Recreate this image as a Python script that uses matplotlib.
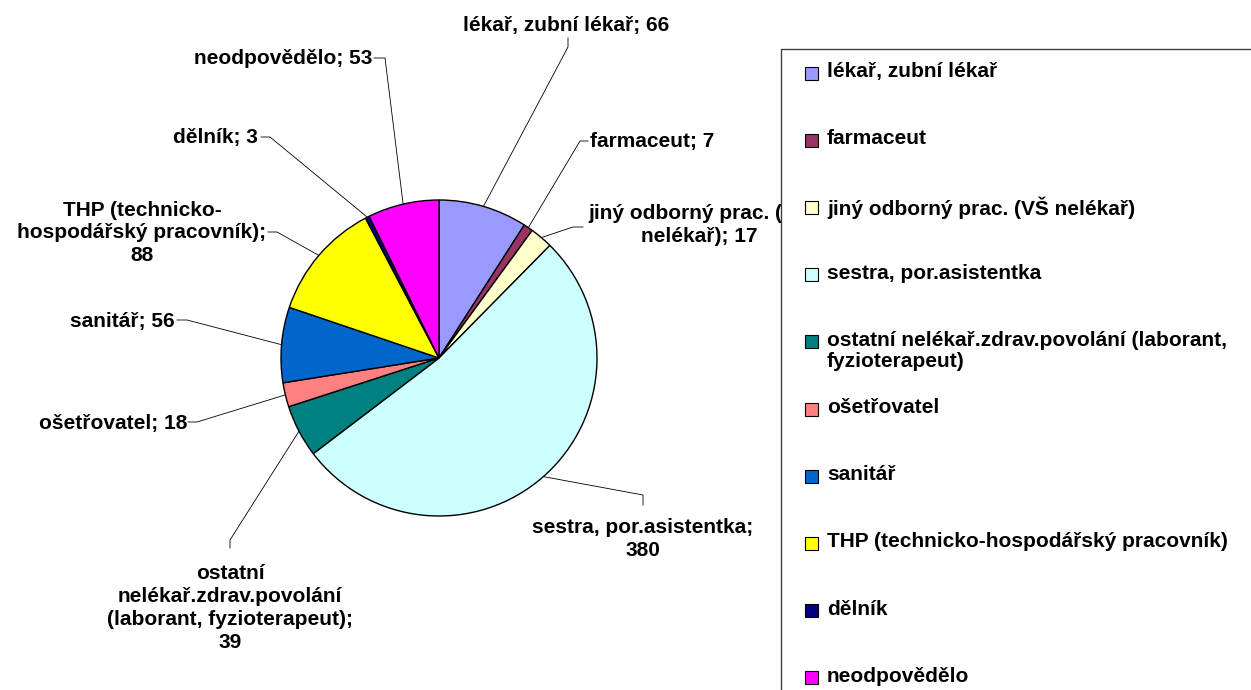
import matplotlib
matplotlib.use("Agg")
import matplotlib.pyplot as plt
from matplotlib.patches import Rectangle
import numpy as np

plt.rcParams['font.family'] = ['Liberation Sans', 'DejaVu Sans']

# data
categories = ["lékař, zubní lékař", "farmaceut", "jiný odborný prac. (VŠ nelékař)",
              "sestra, por.asistentka",
              "ostatní nelékař.zdrav.povolání (laborant,\nfyzioterapeut)",
              "ošetřovatel", "sanitář", "THP (technicko-hospodářský pracovník)",
              "dělník", "neodpovědělo"]
counts = [66, 7, 17, 380, 39, 18, 56, 88, 3, 53]
colors = ["#9999FF", "#993366", "#FFFFCC", "#CCFFFF", "#008080",
          "#FF8080", "#0066CC", "#FFFF00", "#000080", "#FF00FF"]

# wrapped names for the labels next to the pie
label_names = ["lékař, zubní lékař", "farmaceut", "jiný odborný prac. (VŠ\nnelékař)",
               "sestra, por.asistentka", "ostatní\nnelékař.zdrav.povolání\n(laborant, fyzioterapeut)",
               "ošetřovatel", "sanitář", "THP (technicko-\nhospodářský pracovník)",
               "dělník", "neodpovědělo"]
label_seps = ["; ", "; ", "; ", ";\n", ";\n", "; ", "; ", ";\n", "; ", "; "]

W, H = 1251, 690

def py(y):
    # pixel row (from top) -> data y
    return H - y

# label layout in pixels: text x, text y, alignment, elbow point, stub end
label_pos = [(566, 25, 'center'), (590, 142, 'left'), (699, 223, 'center'),
             (643, 539, 'center'), (230, 608, 'center'), (187, 423, 'right'),
             (175, 322, 'right'), (142, 233, 'center'), (258, 137, 'right'),
             (372, 58, 'right')]
elbows = [(568, 47), (580, 141), (573, 227), (643, 495), (230, 540),
          (197, 422), (187, 320), (277, 232), (270, 137), (385, 58)]
stub_ends = [(568, 38), (588, 141), (583, 227), (643, 505), (230, 548),
             (188, 422), (177, 320), (268, 232), (261, 137), (374, 58)]

fig = plt.figure(figsize=(W / 100, H / 100), dpi=100)
ax = fig.add_axes([0, 0, 1, 1])

center = (439, py(358))
radius = 158
wedges, _ = ax.pie(counts, colors=colors, startangle=90, counterclock=False,
                   center=center, radius=radius, frame=True,
                   wedgeprops=dict(edgecolor='black', linewidth=1.0))
ax.set_xlim(0, W)
ax.set_ylim(0, H)
ax.axis('off')

fs = 15
for i, w in enumerate(wedges):
    mid = np.deg2rad((w.theta1 + w.theta2) / 2)
    ex = center[0] + radius * np.cos(mid)
    ey = center[1] + radius * np.sin(mid)
    (bx, by), (sx, sy) = elbows[i], stub_ends[i]
    ax.plot([ex, bx, sx], [ey, py(by), py(sy)], color='black', lw=0.6, zorder=3)
    tx, ty, ha = label_pos[i]
    ax.text(tx, py(ty), f"{label_names[i]}{label_seps[i]}{counts[i]}", ha=ha, va='center',
            multialignment='center', fontsize=fs, fontweight='bold', linespacing=1.25, zorder=4)

# legend box, running off the right and bottom edges like the original
ax.add_patch(Rectangle((781, py(700)), 500, 700 - 49, facecolor='white',
                       edgecolor='#404040', lw=1.0, zorder=10, clip_on=False))
for i, name in enumerate(categories):
    y = 73 + 67.2 * i
    ax.add_patch(Rectangle((805, py(y + 6.5)), 13, 13, facecolor=colors[i],
                           edgecolor='black', lw=0.8, zorder=11))
    ax.text(827, py(y - 11), name, ha='left', va='top', fontsize=fs,
            fontweight='bold', linespacing=1.15, zorder=11)

fig.savefig("out.png", dpi=100)
